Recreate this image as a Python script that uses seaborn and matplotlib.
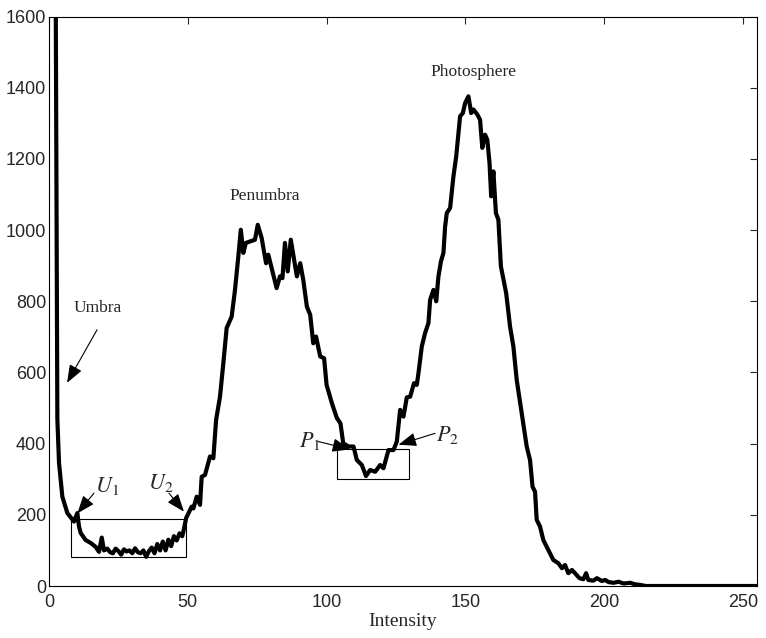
import matplotlib
matplotlib.use("Agg")
import matplotlib.pyplot as plt
import seaborn as sns
import pandas as pd

# Histogram of sunspot image intensity
intensity = [2, 3, 3.6, 4.8, 6.6, 9, 10.2, 10.8, 11.4, 13.2, 15, 16.8, 18, 19, 19.8,
             21, 22, 23, 24, 25, 26, 27, 28, 29, 30, 31, 32, 33, 34, 35, 36, 37, 38, 39,
             40, 41, 42, 43, 44, 45, 46, 47, 48, 48.6, 49.4, 51.4, 52, 53.2, 54.4, 55,
             56.2, 58, 59.2, 60.2, 61.6, 62.8, 64, 65.8, 67, 68.2, 69.1, 70, 70.9, 72.4,
             74.2, 75.2, 76.6, 78.2, 79, 82, 83.2, 84.1, 85, 86, 87.1, 89.3, 90.5, 91.6,
             92.9, 94.1, 95.2, 96.2, 97.7, 99.1, 100, 101.9, 103.7, 105, 106, 107.9,
             109.7, 110.9, 112.7, 114.2, 115.7, 117.5, 119.3, 120.5, 122.3, 124.1, 125.3,
             126.5, 127.7, 128.9, 130.1, 131.5, 132.5, 133.1, 134.3, 135.5, 136.7, 137.3,
             138.5, 139.5, 140.3, 141.2, 142.1, 142.7, 143.3, 144.5, 145.7, 146.7, 147.5,
             148.1, 149.1, 149.9, 151.1, 152.1, 152.9, 154.3, 155.3, 156.1, 157.1, 157.9,
             158.7, 159.3, 160.1, 161, 161.9, 162.8, 164.7, 166.1, 167.3, 168.5, 170.3,
             172.1, 173.3, 174.2, 175.1, 175.7, 176.9, 178.1, 179.9, 181.7, 183.5, 184.8,
             185.9, 187.1, 188.4, 189.5, 191.1, 192.5, 193.5, 194.3, 196.1, 197.4, 199.2,
             200.4, 201.6, 203.4, 205.2, 207, 209.4, 211, 213, 215, 255]
count = [2500, 470, 346, 251, 205, 181, 205, 167, 149, 129, 121, 110, 96, 136, 100,
         105, 95, 92, 105, 98, 88, 103, 97, 100, 92, 106, 95, 92, 100, 82, 98, 108, 92, 118,
         100, 125, 100, 130, 112, 140, 128, 148, 140, 160, 191, 223, 218, 251, 228, 307,
         312, 364, 359, 467, 532, 626, 725, 757, 832, 926, 1001, 936, 964, 968,
         973, 1015, 978, 907, 931, 837, 870, 865, 964, 884, 973, 870, 907, 860,
         785, 762, 682, 701, 645, 640, 565, 514, 472, 457, 401, 392,
         392, 354, 340, 309, 326, 321, 340, 331, 382, 382, 406,
         495, 476, 530, 532, 570, 565, 598, 673, 711, 739, 804,
         832, 800, 870, 912, 936, 1010, 1048, 1062, 1151, 1207, 1273,
         1320, 1329, 1357, 1376, 1329, 1339, 1325, 1310, 1231, 1268, 1254,
         1189, 1095, 1165, 1048, 1029, 898, 823, 729, 673, 579, 486,
         392, 354, 279, 265, 186, 167, 129, 101, 73, 64, 50,
         59, 36, 45, 36, 22, 19, 36, 17, 15, 22, 14,
         17, 11, 9, 12, 7, 9, 5, 3, 0, 0]

# threshold boxes: (x0, y0, width, height)
umbra_box = (8, 82, 41.5, 106)
penumbra_box = (103.7, 301, 26.1, 83)

region_names = ["Umbra", "Penumbra", "Photosphere"]
region_text_pos = [(17.7, 782), (77.8, 1097), (152.8, 1445)]
umbra_arrow = ((17.3, 720), (6.5, 571))

point_labels = ["$U_1$", "$U_2$", "$P_1$", "$P_2$"]
point_label_pos = [(21.0, 280), (40.2, 290), (94.0, 408), (143.6, 425)]
point_arrows = [((16.2, 261), (10.2, 204)), ((43.2, 261), (48.6, 209)),
                ((97.0, 406), (108.5, 384)), ((139.1, 429), (125.9, 397))]

sns.set_style("white")
plt.rcParams["font.family"] = ["Liberation Sans", "DejaVu Sans"]
plt.rcParams["mathtext.fontset"] = "stix"

df = pd.DataFrame({"Intensity": intensity, "Count": count})

fig = plt.figure(figsize=(7.66, 6.38), dpi=100)
ax = fig.add_axes([0.064, 0.0815, 0.924, 0.8925])
sns.lineplot(data=df, x="Intensity", y="Count", color="black", lw=3, ax=ax,
             sort=False, estimator=None)

for (x0, y0, w, h) in [umbra_box, penumbra_box]:
    ax.add_patch(plt.Rectangle((x0, y0), w, h, fill=False, ec="black", lw=0.8, zorder=1))

serif = ["Liberation Serif", "DejaVu Serif"]
for name, (tx, ty) in zip(region_names, region_text_pos):
    ax.text(tx, ty, name, ha="center", va="center", fontsize=12.5, family=serif)

arrow_kw = dict(arrowstyle="-|>,head_length=1.1,head_width=0.42", color="black",
                lw=0.8, shrinkA=0, shrinkB=0)
ax.annotate("", xy=umbra_arrow[1], xytext=umbra_arrow[0], arrowprops=arrow_kw)
for lab, (tx, ty), (tail, tip) in zip(point_labels, point_label_pos, point_arrows):
    ax.text(tx, ty, lab, ha="center", va="center", fontsize=16)
    ax.annotate("", xy=tip, xytext=tail, arrowprops=arrow_kw)

ax.set_xlim(0, 255)
ax.set_ylim(0, 1600)
ax.set_xticks(range(0, 251, 50))
ax.set_yticks(range(0, 1601, 200))
ax.tick_params(direction="in", length=5, width=0.8, top=True, right=True,
               labelsize=13)
ax.tick_params(axis="x", pad=6)
ax.tick_params(axis="y", pad=2)
for s in ax.spines.values():
    s.set_color("black")
    s.set_linewidth(0.8)
ax.set_xlabel("Intensity", fontsize=14, family=serif, labelpad=1)
ax.set_ylabel("")

fig.savefig("out.png", dpi=100)
